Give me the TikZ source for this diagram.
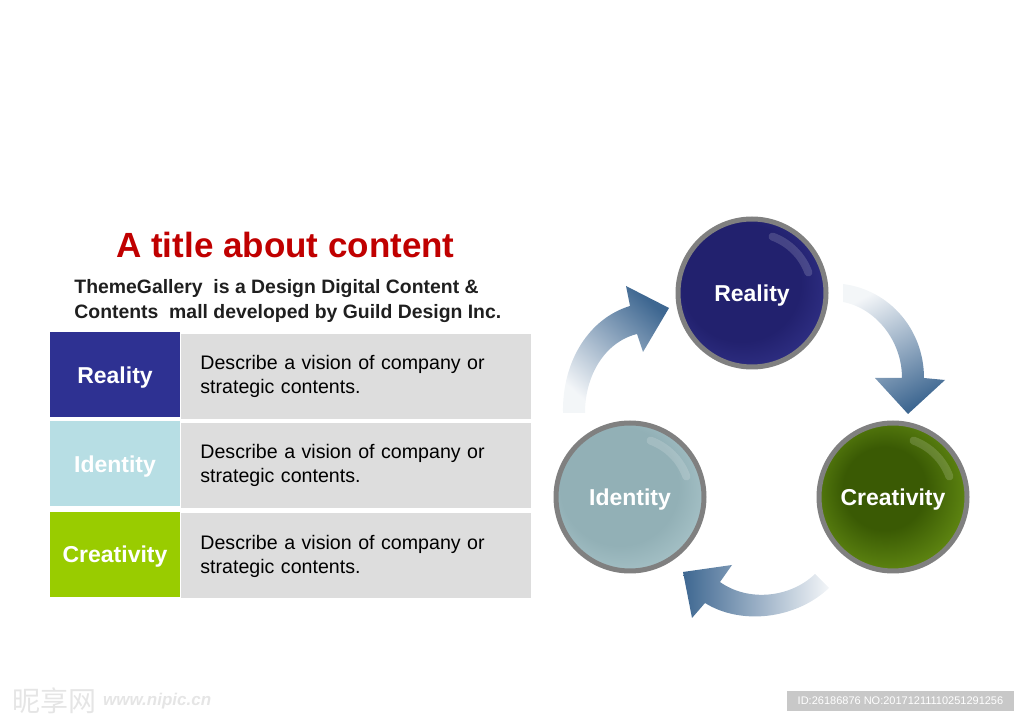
\documentclass[tikz,border=0pt]{standalone}
\usepackage{fontspec}
\setmainfont{Liberation Sans}
\newfontfamily\cjkfont{Noto Sans CJK SC}
\usetikzlibrary{positioning}
\definecolor{titlered}{RGB}{192,0,0}
\definecolor{realityblue}{RGB}{46,49,146}
\definecolor{identitycyan}{RGB}{183,222,228}
\definecolor{creativitygreen}{RGB}{153,204,0}
\definecolor{cellgray}{RGB}{221,221,221}
\definecolor{arrowblue}{RGB}{62,103,145}
\definecolor{ringgray}{RGB}{128,128,128}
\definecolor{realityin}{RGB}{34,33,110}
\definecolor{realityout}{RGB}{70,72,170}
\definecolor{identityin}{RGB}{146,176,182}
\definecolor{identityout}{RGB}{200,224,228}
\definecolor{creativityin}{RGB}{58,90,4}
\definecolor{creativityout}{RGB}{140,188,34}
\definecolor{idgray}{RGB}{200,200,200}
\pgfdeclareradialshading{realityglow}{\pgfpoint{-6bp}{6bp}}{color(0bp)=(realityin); color(20bp)=(realityin); color(46bp)=(realityout); color(50bp)=(realityout)}
\pgfdeclareradialshading{identityglow}{\pgfpoint{-6bp}{6bp}}{color(0bp)=(identityin); color(20bp)=(identityin); color(46bp)=(identityout); color(50bp)=(identityout)}
\pgfdeclareradialshading{creativityglow}{\pgfpoint{-4bp}{4bp}}{color(0bp)=(creativityin); color(14bp)=(creativityin); color(44bp)=(creativityout); color(50bp)=(creativityout)}
\begin{document}
\begin{tikzpicture}[x=0.5pt,y=-0.5pt,
    labelcell/.style={minimum width=65pt, minimum height=42.5pt, inner sep=0pt,
        text height=8.4pt, text depth=0pt,
        text=white, font=\fontsize{11.5}{13}\selectfont\bfseries},
    desccell/.style={fill=cellgray, anchor=west, minimum height=42.5pt,
        inner xsep=9.5pt, text width=156pt, align=left,
        font=\fontsize{9.8}{12}\selectfont},
    bubble/.style={circle, draw=ringgray, line width=2.5pt, minimum size=74pt, shade,
        text height=8.4pt, text depth=0pt,
        text=white, font=\fontsize{11.5}{13}\selectfont\bfseries},
    gloss/.style={white, opacity=0.16, line width=4pt, line cap=round}]
    \useasboundingbox (0,0) rectangle (1024,721);

    % Heading
    \node[anchor=base, text=titlered, font=\fontsize{17.5}{21}\selectfont\bfseries] (title) at (285.5,258) {A title about content};
    \node[anchor=base west, inner sep=0pt, align=left, text={black!88},
        font=\fontsize{9.7}{12.5}\selectfont\bfseries] (intro) at (74,319)
        {ThemeGallery~ is a Design Digital Content \&\\Contents~ mall developed by Guild Design Inc.};

    % Table
    \foreach \name/\col/\y in {Reality/realityblue/375, Identity/identitycyan/464, Creativity/creativitygreen/554.5} {
        \node[labelcell, fill=\col] (tab\name) at (115,\y) {\name};
        \node[desccell] (desc\name) at (181,\y+1.5) {Describe a vision of company or\\strategic contents.};
    }

    % Cycle arrows
    \shade[top color=arrowblue, bottom color=arrowblue!6, shading angle=-42]
        (563,413) .. controls (562,360) and (590,318) .. (630,306) -- (626,286) -- (669,308)
        -- (643,352) -- (637,334) .. controls (605,342) and (585,375) .. (585,413) -- cycle;
    \shade[top color=arrowblue!6, bottom color=arrowblue, shading angle=28]
        (843,284) .. controls (890,290) and (924,330) .. (924,378) -- (945,380) -- (908,414)
        -- (875,378) -- (902,378) .. controls (902,340) and (875,308) .. (843,302) -- cycle;
    \shade[left color=arrowblue, right color=arrowblue!6]
        (720,582) -- (732,565) -- (683,572) -- (692,618) -- (705,603)
        .. controls (740,625) and (795,620) .. (829,588) -- (815,574)
        .. controls (790,598) and (748,602) .. (720,582) -- cycle;

    % Bubbles
    \node[bubble, shading=realityglow] (Reality) at (752,293) {Reality};
    \node[bubble, shading=identityglow] (Identity) at (630,497) {Identity};
    \node[bubble, shading=creativityglow] (Creativity) at (893,497) {Creativity};
    \foreach \n in {Reality,Identity,Creativity}
        \draw[gloss] (\n.center) ++(-20:60) arc[start angle=-20, end angle=-70, radius=60];

    % Watermarks
    \node[anchor=west, inner sep=0pt, text=gray!20, font=\cjkfont\fontsize{14}{14}\selectfont] (logo) at (12,701) {昵享网};
    \node[right=3pt of logo, inner sep=0pt, text=gray!20, font=\fontsize{8.5}{10}\selectfont\bfseries\itshape] (site) {www.nipic.cn};
    \node[fill=idgray, text=white, inner sep=0pt, minimum width=113.5pt, minimum height=10pt,
        font=\fontsize{5.5}{7}\selectfont] (idbox) at (900.5,701) {ID:26186876 NO:20171211110251291256};
\end{tikzpicture}
\end{document}
